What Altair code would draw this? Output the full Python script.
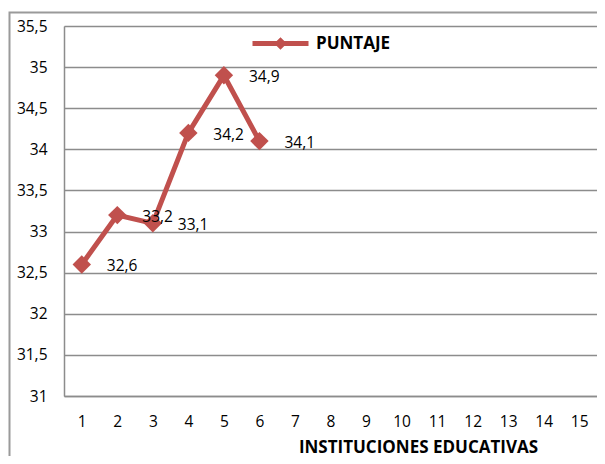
import altair as alt
import pandas as pd

# --- data ---
instituciones = [1, 2, 3, 4, 5, 6]
puntaje = [32.6, 33.2, 33.1, 34.2, 34.9, 34.1]
categorias_x = list(range(1, 16))
ticks_y = [31, 31.5, 32, 32.5, 33, 33.5, 34, 34.5, 35, 35.5]
serie = "PUNTAJE"

df = pd.DataFrame({"inst": instituciones, "puntaje": puntaje})
df["serie"] = serie
df["etiqueta"] = [f"{v:.1f}".replace(".", ",") for v in puntaje]

FONT = "Open Sans"
COLOR = "#C0504D"
GRID = "#8C8C8C"
FS = 15.5

x_enc = alt.X(
    "inst:O",
    scale=alt.Scale(domain=categorias_x, padding=0.5),
    axis=alt.Axis(
        title="INSTITUCIONES EDUCATIVAS",
        labelAngle=0,
        ticks=False,
        grid=False,
        labelPadding=18,
        labelFont=FONT,
        labelFontSize=FS,
        labelColor="#000000",
        domainColor=GRID,
        domainWidth=1.5,
        titleFont=FONT,
        titleFontSize=17,
        titleFontWeight="bold",
        titleColor="#000000",
        titleX=354,
        titleY=51,
        titleAlign="center",
        titleBaseline="middle",
    ),
)
y_enc = alt.Y(
    "puntaje:Q",
    scale=alt.Scale(domain=[31, 35.5], nice=False, zero=False),
    axis=alt.Axis(
        title=None,
        values=ticks_y,
        labelExpr="replace(toString(datum.value), '.', ',')",
        ticks=False,
        grid=True,
        gridColor=GRID,
        gridWidth=1.5,
        labelPadding=17,
        labelFont=FONT,
        labelFontSize=FS,
        labelColor="#000000",
        domainColor=GRID,
        domainWidth=1.5,
    ),
)
color_enc = alt.Color(
    "serie:N",
    scale=alt.Scale(domain=[serie], range=[COLOR]),
    legend=alt.Legend(
        title=None,
        orient="none",
        legendX=207,
        legendY=8,
        padding=0,
        symbolType="M-4,0H4M0,-0.4L0.4,0L0,0.4L-0.4,0Z",
        symbolSize=196,
        symbolStrokeWidth=5,
        symbolStrokeColor=COLOR,
        symbolFillColor=COLOR,
        labelOffset=26,
        labelFont=FONT,
        labelFontSize=17,
        labelFontWeight="bold",
        labelColor="#000000",
    ),
)

base = alt.Chart(df)

frame = alt.Chart(pd.DataFrame({"a": [0]})).mark_rect(
    fillOpacity=0, stroke="#9A9A9A", strokeWidth=2
).encode(
    x=alt.value(-54.5), x2=alt.value(570), y=alt.value(-13.5), y2=alt.value(470)
)

line = base.mark_line(strokeWidth=5).encode(x=x_enc, y=y_enc, color=color_enc)
points = base.mark_point(shape="diamond", filled=True, size=340, opacity=1).encode(
    x="inst:O", y="puntaje:Q", color=alt.Color("serie:N")
)
labels = base.mark_text(
    align="left", baseline="middle", dx=25, dy=2, font=FONT, fontSize=FS, color="#000000"
).encode(x="inst:O", y="puntaje:Q", text="etiqueta:N")

chart = (
    alt.layer(frame, line, points, labels)
    .properties(
        width=533,
        height=370,
        autosize=alt.AutoSizeParams(type="none"),
        padding={"left": 56, "top": 18, "right": 0, "bottom": 60},
    )
    .configure_view(stroke=None)
    .configure(background="white")
)

chart.save("out.html", embed_options={"renderer": "svg", "actions": False})
